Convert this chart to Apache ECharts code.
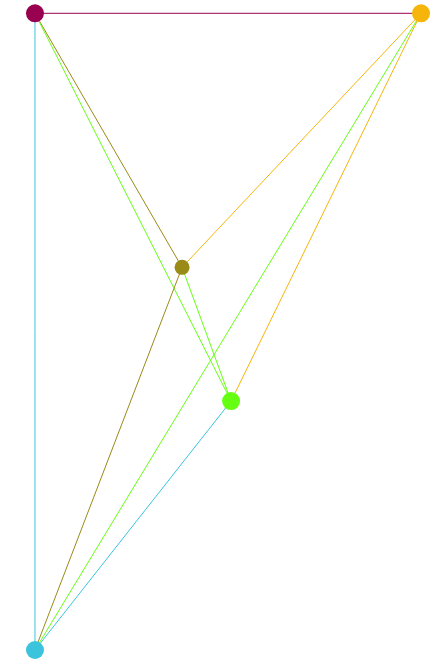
<!DOCTYPE html>
<html>
<head>
<meta charset="utf-8">
<script src="https://cdn.jsdelivr.net/npm/echarts@6/dist/echarts.min.js"></script>
<style>
  html, body { margin: 0; padding: 0; background: #fff; }
  #main { width: 430px; height: 659px; }
</style>
</head>
<body>
<div id="main"></div>
<script>
// 节点
var names = ['A', 'B', 'C', 'D', 'E']
var xs = [0, 100, 38.1, 50.8, 0]
var ys = [100, 100, 60.1, 39.1, 0]
var sizes = [18, 18, 15, 18, 18]
var nodeColors = ['#990050', '#f5b50a', '#9a8a16', '#66ff11', '#3cc4dc']

// 连线
var linkFrom = ['A', 'A', 'A', 'A', 'B', 'B', 'B', 'C', 'C', 'D']
var linkTo = ['B', 'E', 'C', 'D', 'C', 'D', 'E', 'D', 'E', 'E']
var linkColors = ['#990050', '#3cc4dc', '#9a8a16', '#66ff11', '#f5b50a', '#f5b50a', '#66ff11', '#66ff11', '#9a8a16', '#3cc4dc']

var myChart = echarts.init(document.getElementById('main'))

var pos = (n) => {
  var i = names.indexOf(n)
  return [xs[i], ys[i]]
}

var series = []
// 边
linkFrom.forEach((s, i) => {
  series.push({
    type: 'line',
    data: [pos(s), pos(linkTo[i])],
    symbol: 'none',
    lineStyle: { color: linkColors[i], width: 1 },
    silent: true,
    z: 1
  })
})
// 点
series.push({
  type: 'scatter',
  data: names.map((n, i) => ({
    value: [xs[i], ys[i]],
    symbolSize: sizes[i],
    itemStyle: { color: nodeColors[i], opacity: 1 }
  })),
  silent: true,
  z: 3
})

var options = {
  animation: false,
  grid: { left: 0, right: 0, top: 0, bottom: 0 },
  xAxis: { type: 'value', min: -9.067, max: 102.33, show: false },
  yAxis: { type: 'value', min: -1.414, max: 102.09, show: false },
  series: series
}
myChart.setOption(options)
</script>
</body>
</html>
